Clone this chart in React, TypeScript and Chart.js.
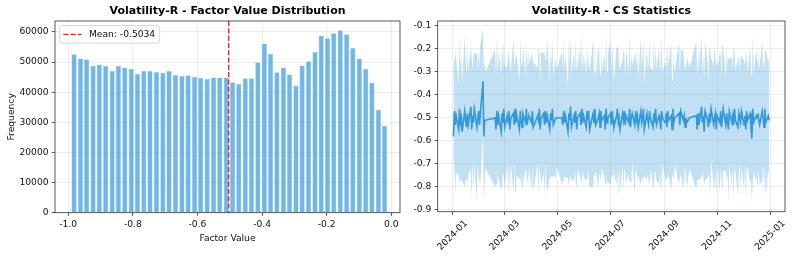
import React, { useEffect, useRef } from 'react';
import { Chart, registerables } from 'chart.js';

Chart.register(...registerables);

// ---------- Left panel: histogram ----------
const HIST_TITLE = 'Volatility-R - Factor Value Distribution';
const HIST_X_LABEL = 'Factor Value';
const HIST_Y_LABEL = 'Frequency';
const MEAN_VALUE = -0.5034;
const MEAN_LABEL = 'Mean: -0.5034';

const BIN_CENTERS = [
  -0.982, -0.962, -0.943, -0.923, -0.904, -0.884, -0.864, -0.845, -0.825, -0.805,
  -0.786, -0.766, -0.747, -0.727, -0.707, -0.688, -0.668, -0.648, -0.629, -0.609,
  -0.590, -0.570, -0.550, -0.531, -0.511, -0.491, -0.472, -0.452, -0.433, -0.413,
  -0.393, -0.374, -0.354, -0.334, -0.315, -0.295, -0.276, -0.256, -0.236, -0.217,
  -0.197, -0.178, -0.158, -0.138, -0.119, -0.099, -0.079, -0.060, -0.040, -0.021,
];
const BIN_COUNTS = [
  52600, 51200, 50900, 48800, 49200, 48700, 47100, 48700, 48200, 47700,
  46000, 47100, 47100, 46700, 46500, 47100, 45700, 45400, 45600, 45100,
  44700, 44400, 44900, 44900, 44900, 43300, 42700, 44600, 44600, 49900,
  56200, 52700, 46600, 48200, 45900, 42200, 48900, 50300, 53300, 58800,
  57900, 59600, 60600, 59200, 54700, 51200, 47700, 43200, 34200, 28900,
];
const HIST_X_TICKS = [-1.0, -0.8, -0.6, -0.4, -0.2, 0.0];
const HIST_Y_TICKS = [0, 10000, 20000, 30000, 40000, 50000, 60000];

// ---------- Right panel: cross-sectional statistics ----------
const CS_TITLE = 'Volatility-R - CS Statistics';
const CS_Y_TICKS = [-0.9, -0.8, -0.7, -0.6, -0.5, -0.4, -0.3, -0.2, -0.1];
const CS_X_TICK_DATES = ['2024-01-01', '2024-03-01', '2024-05-01', '2024-07-01', '2024-09-01', '2024-11-01', '2025-01-01'];
const CS_YEAR = 2024;
const CS_HOLIDAYS = [
  '2024-01-01', '2024-02-09', '2024-02-12', '2024-02-13', '2024-02-14', '2024-02-15', '2024-02-16',
  '2024-04-04', '2024-04-05', '2024-05-01', '2024-05-02', '2024-05-03', '2024-06-10',
  '2024-09-16', '2024-09-17', '2024-10-01', '2024-10-02', '2024-10-03', '2024-10-04', '2024-10-07',
];

// daily cross-sectional mean (one per trading day, Jan..Dec)
const CS_MEAN = [
  // Jan
  -0.58, -0.47, -0.53, -0.49, -0.55, -0.46, -0.52, -0.50, -0.56, -0.47, -0.51, -0.54, -0.48, -0.53, -0.45, -0.55, -0.49, -0.52, -0.46, -0.54, -0.50, -0.47,
  // Feb
  -0.53, -0.48, -0.34, -0.58, -0.51, -0.51, -0.50, -0.55, -0.47, -0.53, -0.49, -0.56, -0.48, -0.52, -0.46,
  // Mar
  -0.54, -0.49, -0.52, -0.47, -0.55, -0.50, -0.48, -0.53, -0.46, -0.52, -0.49, -0.55, -0.47, -0.51, -0.54, -0.48, -0.52, -0.46, -0.53, -0.50, -0.49,
  // Apr
  -0.52, -0.47, -0.54, -0.49, -0.51, -0.46, -0.55, -0.50, -0.48, -0.53, -0.47, -0.52, -0.49, -0.55, -0.48, -0.51, -0.46, -0.53, -0.50, -0.50,
  // May
  -0.50, -0.53, -0.47, -0.52, -0.49, -0.56, -0.48, -0.51, -0.45, -0.54, -0.49, -0.52, -0.47, -0.55, -0.50, -0.48, -0.53, -0.46, -0.52, -0.49,
  // Jun
  -0.54, -0.47, -0.51, -0.49, -0.55, -0.48, -0.52, -0.46, -0.53, -0.50, -0.48, -0.54, -0.47, -0.51, -0.49, -0.55, -0.46, -0.52, -0.50,
  // Jul
  -0.48, -0.53, -0.47, -0.51, -0.54, -0.49, -0.46, -0.52, -0.50, -0.55, -0.48, -0.51, -0.47, -0.53, -0.49, -0.52, -0.46, -0.54, -0.50, -0.48, -0.53, -0.47, -0.51,
  // Aug
  -0.49, -0.54, -0.47, -0.52, -0.50, -0.46, -0.55, -0.48, -0.51, -0.53, -0.47, -0.50, -0.54, -0.48, -0.52, -0.46, -0.53, -0.49, -0.51, -0.55, -0.47, -0.50,
  // Sep
  -0.52, -0.48, -0.54, -0.47, -0.51, -0.49, -0.55, -0.46, -0.52, -0.50, -0.48, -0.53, -0.47, -0.51, -0.49, -0.54, -0.50, -0.52, -0.50,
  // Oct
  -0.49, -0.55, -0.48, -0.53, -0.45, -0.52, -0.49, -0.56, -0.47, -0.51, -0.54, -0.48, -0.52, -0.46, -0.53, -0.50, -0.48, -0.55,
  // Nov
  -0.49, -0.52, -0.47, -0.54, -0.50, -0.46, -0.53, -0.48, -0.51, -0.55, -0.47, -0.52, -0.49, -0.53, -0.46, -0.51, -0.54, -0.48, -0.50, -0.52, -0.47,
  // Dec
  -0.53, -0.49, -0.55, -0.47, -0.51, -0.48, -0.54, -0.59, -0.46, -0.52, -0.49, -0.50, -0.48, -0.51, -0.53, -0.47, -0.50, -0.54, -0.46, -0.52, -0.49, -0.51,
];

// daily cross-sectional standard deviation (band = mean ± std)
const CS_STD = [
  // Jan
  0.29, 0.22, 0.31, 0.25, 0.20, 0.32, 0.24, 0.28, 0.21, 0.33, 0.26, 0.23, 0.30, 0.22, 0.27, 0.31, 0.20, 0.29, 0.24, 0.32, 0.21, 0.27,
  // Feb
  0.25, 0.30, 0.23, 0.29, 0.26, 0.21, 0.30, 0.24, 0.32, 0.21, 0.28, 0.25, 0.31, 0.22, 0.29,
  // Mar
  0.27, 0.21, 0.31, 0.24, 0.29, 0.20, 0.33, 0.25, 0.22, 0.30, 0.26, 0.21, 0.32, 0.23, 0.28, 0.31, 0.20, 0.27, 0.24, 0.30, 0.22,
  // Apr
  0.30, 0.23, 0.28, 0.21, 0.32, 0.25, 0.20, 0.29, 0.26, 0.31, 0.22, 0.27, 0.33, 0.21, 0.28, 0.24, 0.30, 0.22, 0.26, 0.21,
  // May
  0.29, 0.24, 0.31, 0.22, 0.27, 0.20, 0.32, 0.25, 0.30, 0.23, 0.28, 0.21, 0.31, 0.26, 0.22, 0.29, 0.24, 0.33, 0.21, 0.27,
  // Jun
  0.23, 0.30, 0.21, 0.28, 0.25, 0.32, 0.22, 0.29, 0.20, 0.31, 0.26, 0.23, 0.30, 0.21, 0.27, 0.24, 0.32, 0.22, 0.28,
  // Jul
  0.31, 0.22, 0.29, 0.24, 0.20, 0.30, 0.26, 0.33, 0.21, 0.27, 0.23, 0.31, 0.25, 0.20, 0.29, 0.22, 0.32, 0.24, 0.28, 0.21, 0.30, 0.25, 0.23,
  // Aug
  0.28, 0.21, 0.32, 0.24, 0.27, 0.30, 0.20, 0.29, 0.23, 0.26, 0.31, 0.22, 0.25, 0.33, 0.21, 0.28, 0.24, 0.30, 0.22, 0.27, 0.31, 0.20,
  // Sep
  0.26, 0.30, 0.22, 0.29, 0.24, 0.32, 0.21, 0.28, 0.25, 0.20, 0.31, 0.23, 0.27, 0.30, 0.22, 0.26, 0.21, 0.29, 0.22,
  // Oct
  0.32, 0.22, 0.29, 0.24, 0.31, 0.21, 0.27, 0.23, 0.30, 0.25, 0.20, 0.28, 0.33, 0.22, 0.26, 0.31, 0.24, 0.29,
  // Nov
  0.21, 0.30, 0.25, 0.22, 0.32, 0.27, 0.20, 0.29, 0.24, 0.31, 0.23, 0.28, 0.21, 0.33, 0.26, 0.22, 0.30, 0.25, 0.20, 0.29, 0.24,
  // Dec
  0.28, 0.22, 0.31, 0.25, 0.20, 0.30, 0.23, 0.27, 0.32, 0.21, 0.29, 0.24, 0.31, 0.22, 0.26, 0.30, 0.21, 0.28, 0.25, 0.32, 0.23, 0.29,
];

// ---------- helpers ----------
const DAY_MS = 86400000;
const ORIGIN = Date.UTC(CS_YEAR, 0, 1);
const dayOffset = (iso: string) => (Date.parse(iso) - ORIGIN) / DAY_MS;

function tradingDayOffsets(): number[] {
  const hol = new Set(CS_HOLIDAYS);
  const out: number[] = [];
  for (let t = ORIGIN; t < Date.UTC(CS_YEAR + 1, 0, 1); t += DAY_MS) {
    const d = new Date(t);
    const wd = d.getUTCDay();
    if (wd === 0 || wd === 6) continue;
    if (hol.has(d.toISOString().slice(0, 10))) continue;
    out.push((t - ORIGIN) / DAY_MS);
  }
  return out;
}

const FONT = 'DejaVu Sans';
const FS = 9.17;
const TEXT = '#111';
const GRID = 'rgba(176,176,176,0.3)';
const SPINE = '#333';
const TICK_LEN = 3.2;
const TICK_PAD = 3.2;

function drawFrameAndTitle(chart: any, title: string) {
  const { ctx, chartArea: a } = chart;
  ctx.save();
  ctx.strokeStyle = SPINE;
  ctx.lineWidth = 0.8;
  ctx.strokeRect(a.left, a.top, a.right - a.left, a.bottom - a.top);
  ctx.fillStyle = '#000';
  ctx.font = `bold 11px ${FONT}`;
  ctx.textAlign = 'center';
  ctx.textBaseline = 'alphabetic';
  ctx.fillText(title, (a.left + a.right) / 2, 13.5);
  ctx.restore();
}

function HistChart() {
  const ref = useRef<HTMLCanvasElement>(null);
  useEffect(() => {
    const canvas = ref.current!;
    const overlay = {
      id: 'histOverlay',
      afterDatasetsDraw(chart: any) {
        const { ctx, chartArea: a, scales } = chart;
        const x = scales.x.getPixelForValue(MEAN_VALUE);
        ctx.save();
        ctx.strokeStyle = '#e8262b';
        ctx.lineWidth = 1.4;
        ctx.setLineDash([5.1, 2.2]);
        ctx.beginPath();
        ctx.moveTo(x, a.top);
        ctx.lineTo(x, a.bottom);
        ctx.stroke();
        ctx.restore();
      },
      afterDraw(chart: any) {
        const { ctx, chartArea: a } = chart;
        drawFrameAndTitle(chart, HIST_TITLE);
        ctx.save();
        ctx.fillStyle = TEXT;
        ctx.font = `${FS}px ${FONT}`;
        ctx.textAlign = 'center';
        ctx.textBaseline = 'alphabetic';
        ctx.fillText(HIST_X_LABEL, (a.left + a.right) / 2, 240.5);
        ctx.save();
        ctx.translate(12, (a.top + a.bottom) / 2);
        ctx.rotate(-Math.PI / 2);
        ctx.textBaseline = 'middle';
        ctx.fillText(HIST_Y_LABEL, 0, 0);
        ctx.restore();
        // legend
        const bx = a.left + 4.6, by = a.top + 4.6, bw = 100, bh = 17.5, r = 2.5;
        ctx.beginPath();
        ctx.moveTo(bx + r, by);
        ctx.lineTo(bx + bw - r, by);
        ctx.quadraticCurveTo(bx + bw, by, bx + bw, by + r);
        ctx.lineTo(bx + bw, by + bh - r);
        ctx.quadraticCurveTo(bx + bw, by + bh, bx + bw - r, by + bh);
        ctx.lineTo(bx + r, by + bh);
        ctx.quadraticCurveTo(bx, by + bh, bx, by + bh - r);
        ctx.lineTo(bx, by + r);
        ctx.quadraticCurveTo(bx, by, bx + r, by);
        ctx.closePath();
        ctx.fillStyle = 'rgba(255,255,255,0.8)';
        ctx.fill();
        ctx.strokeStyle = '#cccccc';
        ctx.lineWidth = 0.8;
        ctx.stroke();
        const cy = by + bh / 2;
        ctx.strokeStyle = '#e8262b';
        ctx.lineWidth = 1.4;
        ctx.setLineDash([5.1, 2.2]);
        ctx.beginPath();
        ctx.moveTo(bx + 3.7, cy);
        ctx.lineTo(bx + 3.7 + 18.3, cy);
        ctx.stroke();
        ctx.setLineDash([]);
        ctx.fillStyle = TEXT;
        ctx.textAlign = 'left';
        ctx.textBaseline = 'middle';
        ctx.fillText(MEAN_LABEL, bx + 3.7 + 18.3 + 7.3, cy + 0.5);
        ctx.restore();
      },
    };
    const chart = new Chart(canvas, {
      type: 'bar',
      data: {
        datasets: [
          {
            data: BIN_CENTERS.map((x, i) => ({ x, y: BIN_COUNTS[i] })),
            backgroundColor: 'rgba(52,152,219,0.7)',
            borderColor: '#a3cdee',
            borderWidth: 0.6,
            barPercentage: 0.86,
            categoryPercentage: 1,
            grouped: false,
          } as any,
        ],
      },
      options: {
        animation: false,
        responsive: false,
        maintainAspectRatio: false,
        events: [],
        layout: { padding: { left: 0, right: 5, top: 21, bottom: 0 } },
        plugins: { legend: { display: false }, tooltip: { enabled: false }, title: { display: false } },
        scales: {
          x: {
            type: 'linear',
            min: -1.041,
            max: 0.027,
            offset: false,
            afterBuildTicks: (s: any) => { s.ticks = HIST_X_TICKS.map((v) => ({ value: v })); },
            afterFit: (s: any) => { s.height = 47.3; },
            grid: { offset: false, color: GRID, lineWidth: 0.75, tickColor: SPINE, tickLength: TICK_LEN, tickWidth: 0.8 },
            border: { display: false },
            ticks: { font: { family: FONT, size: FS }, color: TEXT, padding: TICK_PAD, maxRotation: 0, minRotation: 0, callback: (v: any) => Number(v).toFixed(1) },
          },
          y: {
            type: 'linear',
            min: 0,
            max: 63630,
            afterBuildTicks: (s: any) => { s.ticks = HIST_Y_TICKS.map((v) => ({ value: v })); },
            afterFit: (s: any) => { s.width = 55; },
            grid: { color: GRID, lineWidth: 0.75, tickColor: SPINE, tickLength: TICK_LEN, tickWidth: 0.8 },
            border: { display: false },
            ticks: { font: { family: FONT, size: FS }, color: TEXT, padding: TICK_PAD, callback: (v: any) => String(v) },
          },
        },
      } as any,
      plugins: [overlay],
    });
    return () => chart.destroy();
  }, []);
  return <canvas ref={ref} width={405} height={260} style={{ position: 'absolute', left: 0, top: 0 }} />;
}

function CsChart() {
  const ref = useRef<HTMLCanvasElement>(null);
  useEffect(() => {
    const canvas = ref.current!;
    const days = tradingDayOffsets();
    const n = Math.min(days.length, CS_MEAN.length, CS_STD.length);
    const meanPts: any[] = [];
    const upPts: any[] = [];
    const loPts: any[] = [];
    for (let i = 0; i < n; i++) {
      meanPts.push({ x: days[i], y: CS_MEAN[i] });
      upPts.push({ x: days[i], y: CS_MEAN[i] + CS_STD[i] });
      loPts.push({ x: days[i], y: CS_MEAN[i] - CS_STD[i] });
    }
    const tickVals = CS_X_TICK_DATES.map(dayOffset);
    const overlay = {
      id: 'csOverlay',
      afterDraw(chart: any) {
        const { ctx, chartArea: a, scales } = chart;
        drawFrameAndTitle(chart, CS_TITLE);
        ctx.save();
        ctx.fillStyle = TEXT;
        ctx.font = `${FS}px ${FONT}`;
        ctx.textAlign = 'center';
        ctx.textBaseline = 'middle';
        const h = FS * 1.164;
        CS_X_TICK_DATES.forEach((iso, i) => {
          const label = iso.slice(0, 7);
          const x = scales.x.getPixelForValue(tickVals[i]);
          const w = ctx.measureText(label).width;
          const half = ((w + h) * Math.SQRT1_2) / 2;
          const cy = a.bottom + TICK_LEN + TICK_PAD + half;
          ctx.save();
          ctx.translate(x, cy);
          ctx.rotate(-Math.PI / 4);
          ctx.fillText(label, 0, 0);
          ctx.restore();
        });
        ctx.restore();
      },
    };
    const chart = new Chart(canvas, {
      type: 'line',
      data: {
        datasets: [
          { data: meanPts, borderColor: '#3498db', borderWidth: 1.6, pointRadius: 0, fill: false, tension: 0, order: 0 },
          { data: upPts, borderWidth: 0, borderColor: 'rgba(0,0,0,0)', pointRadius: 0, fill: '+1', backgroundColor: 'rgba(52,152,219,0.3)', tension: 0, order: 1 },
          { data: loPts, borderWidth: 0, borderColor: 'rgba(0,0,0,0)', pointRadius: 0, fill: false, tension: 0, order: 2 },
        ],
      },
      options: {
        animation: false,
        responsive: false,
        maintainAspectRatio: false,
        events: [],
        layout: { padding: { left: 0, right: 8, top: 21, bottom: 0 } },
        plugins: { legend: { display: false }, tooltip: { enabled: false }, title: { display: false } },
        scales: {
          x: {
            type: 'linear',
            min: -17.2,
            max: 383.2,
            afterBuildTicks: (s: any) => { s.ticks = tickVals.map((v) => ({ value: v })); },
            afterFit: (s: any) => { s.height = 48.3; },
            grid: { color: GRID, lineWidth: 0.75, tickColor: SPINE, tickLength: TICK_LEN, tickWidth: 0.8 },
            border: { display: false },
            ticks: { display: false },
          },
          y: {
            type: 'linear',
            min: -0.9074,
            max: -0.0783,
            afterBuildTicks: (s: any) => { s.ticks = CS_Y_TICKS.map((v) => ({ value: v })); },
            afterFit: (s: any) => { s.width = 37.7; },
            grid: { color: GRID, lineWidth: 0.75, tickColor: SPINE, tickLength: TICK_LEN, tickWidth: 0.8 },
            border: { display: false },
            ticks: { font: { family: FONT, size: FS }, color: TEXT, padding: TICK_PAD, callback: (v: any) => Number(v).toFixed(1) },
          },
        },
      } as any,
      plugins: [overlay],
    });
    return () => chart.destroy();
  }, []);
  return <canvas ref={ref} width={393} height={260} style={{ position: 'absolute', left: 400, top: 0 }} />;
}

export default function App() {
  return (
    <div style={{ position: 'fixed', left: 0, top: 0, width: 793, height: 260, background: '#fff', overflow: 'hidden' }}>
      <HistChart />
      <CsChart />
    </div>
  );
}
